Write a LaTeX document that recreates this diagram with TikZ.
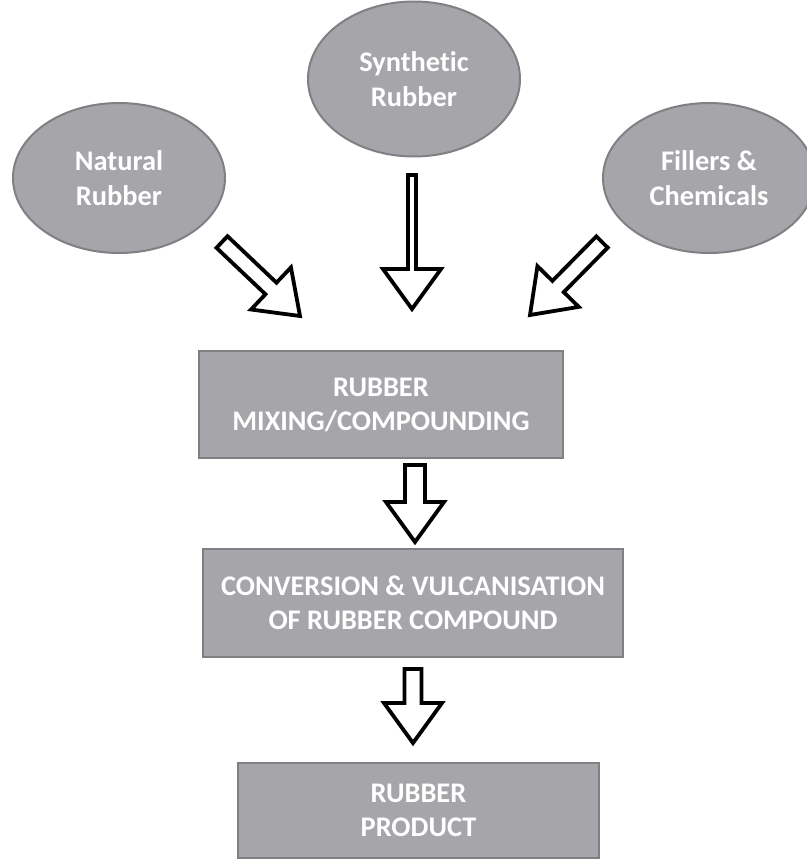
\documentclass[tikz,border=0pt]{standalone}
\usepackage{fontspec}
\setmainfont[Ligatures=NoCommon]{Carlito}
\usepackage{xcolor}
\usetikzlibrary{calc, shapes.geometric}

\definecolor{boxgray}{RGB}{166,166,170}
\definecolor{edgegray}{RGB}{128,128,132}

\tikzset{
	source/.style = {ellipse, draw = edgegray, line width = 1pt, fill = boxgray, inner sep = 0pt, text = white, align = center, font = \bfseries\fontsize{14.2}{17.5}\selectfont},
	stage/.style = {rectangle, draw = edgegray, line width = 1.2pt, fill = boxgray, inner sep = 0pt, text = white, align = center, font = \bfseries\fontsize{14.2}{17}\selectfont},
	hollow/.style = {draw = black, line width = 1.9pt, fill = white, line join = miter}
}

\newcommand{\hollowarrow}[3]{%
	\coordinate (base) at ($(#3)!\hl!(#2)$);
	\draw [hollow] ($(#2)!#1!90:(#3)$) -- ($(base)!#1!90:(#3)$) -- ($(base)!\hw!90:(#3)$) -- (#3)
		-- ($(base)!\hw!-90:(#3)$) -- ($(base)!#1!-90:(#3)$) -- ($(#2)!#1!-90:(#3)$) -- cycle;
}

\begin{document}
\begin{tikzpicture}[x = 0.5pt, y = -0.5pt]
		\def\hl{20pt};
		\def\hw{14.5pt};
		
		\useasboundingbox (0,0) rectangle (807,867);
		
		\node [source, minimum width = 106pt, minimum height = 75pt] (nr) at (119,178) {Natural\\Rubber};
		\node [source, minimum width = 106pt, minimum height = 77.5pt] (sr) at (414,79) {Synthetic\\Rubber};
		\node [source, minimum width = 106pt, minimum height = 75pt] (fc) at (709,178) {Fillers \&\\Chemicals};
		
		\node [stage, minimum width = 182pt, minimum height = 53.5pt] (mix) at (381,404.5) {RUBBER\\MIXING/COMPOUNDING};
		\node [stage, minimum width = 210pt, minimum height = 54pt] (conv) at (413,603) {CONVERSION \& VULCANISATION\\OF RUBBER COMPOUND};
		\node [stage, minimum width = 180.5pt, minimum height = 47.5pt] (prod) at (418.5,810.5) {RUBBER\\PRODUCT};
		
		\coordinate (nr-tail) at (222,242);
		\coordinate (nr-tip) at (300,316);
		\coordinate (sr-tail) at (412,175);
		\coordinate (sr-tip) at (412,309);
		\coordinate (fc-tail) at (602,242);
		\coordinate (fc-tip) at (530,315);
		\coordinate (mix-tail) at (415,465);
		\coordinate (mix-tip) at (415,542);
		\coordinate (conv-tail) at (413,669);
		\coordinate (conv-tip) at (413,743);
		
		\hollowarrow{4pt}{nr-tail}{nr-tip}
		\hollowarrow{2pt}{sr-tail}{sr-tip}
		\hollowarrow{4pt}{fc-tail}{fc-tip}
		\hollowarrow{5pt}{mix-tail}{mix-tip}
		\hollowarrow{4.25pt}{conv-tail}{conv-tip}
	\end{tikzpicture}
\end{document}
